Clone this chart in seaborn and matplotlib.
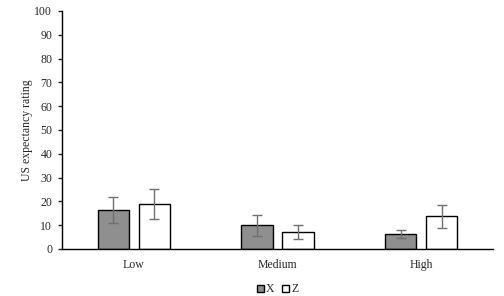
import pandas as pd
import matplotlib.pyplot as plt
import seaborn as sns

# values
levels = ["Low", "Medium", "High"]
x_means = [16.4, 9.9, 6.2]
z_means = [18.9, 7.1, 13.7]
x_err = [5.3, 4.5, 1.7]
z_err = [6.3, 3.0, 4.8]

df = pd.DataFrame({
    "level": levels * 2,
    "group": ["X"] * 3 + ["Z"] * 3,
    "rating": x_means + z_means,
})
errs = x_err + z_err

sns.set_style("white")
plt.rcParams["font.family"] = ["Liberation Serif", "DejaVu Serif"]

fig = plt.figure(figsize=(5.04, 2.96), dpi=100)
ax = fig.add_axes([0.123, 0.159, 0.855, 0.804])

sns.barplot(data=df, x="level", y="rating", hue="group", order=levels,
            palette={"X": "#8f8f8f", "Z": "white"}, edgecolor="black",
            linewidth=1, width=0.57, gap=0.23, errorbar=None, ax=ax)

# error bars on top of each bar
for bar, e in zip(ax.patches[:6], errs):
    cx = bar.get_x() + bar.get_width() / 2
    ax.errorbar(cx, bar.get_height(), yerr=e, color="#707070", lw=1,
                capsize=3.5, capthick=1)

ax.set_ylim(0, 100)
ax.set_xlim(-0.5, 2.5)
ax.set_yticks(range(0, 101, 10))
ax.set_xlabel("")
ax.set_ylabel("US expectancy rating", fontsize=8.5, labelpad=1)
ax.tick_params(axis="y", direction="out", length=3, width=1, labelsize=8.5, pad=4, left=True)
ax.tick_params(axis="x", length=0, labelsize=8.5, pad=7)
for s in ["top", "right"]:
    ax.spines[s].set_visible(False)
for s in ["left", "bottom"]:
    ax.spines[s].set_color("black")
    ax.spines[s].set_linewidth(1)

ax.legend(loc="upper center", bbox_to_anchor=(0.5, -0.135), ncol=2, frameon=False,
          fontsize=8.5, handlelength=0.6, handleheight=0.6, handletextpad=0.2,
          columnspacing=0.6, borderaxespad=0, borderpad=0.2)

fig.savefig("out.png", dpi=100)
